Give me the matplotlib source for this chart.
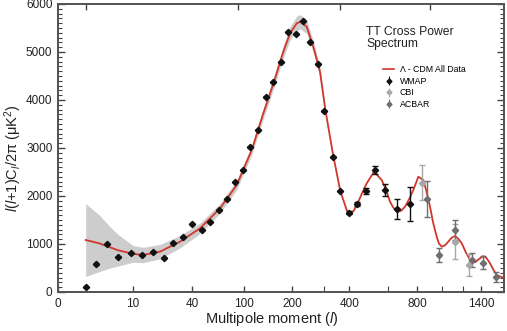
import matplotlib.pyplot as plt
import numpy as np
from matplotlib.ticker import MultipleLocator, FixedLocator
from matplotlib.lines import Line2D

plt.rcParams['font.family'] = ['Liberation Sans', 'DejaVu Sans']
plt.rcParams['mathtext.fontset'] = 'custom'
plt.rcParams['mathtext.rm'] = 'Liberation Sans'
plt.rcParams['mathtext.it'] = 'Liberation Sans:italic'

# Lambda-CDM model curve
model_l = [2, 3.4, 4.95, 6.4, 10, 13.1, 20, 31.2, 46.6, 67.1, 88.8, 112.5, 133.8,
           156, 177.5, 194.3, 212.3, 222, 241.3, 262.1, 284.5, 302, 331, 361,
           388.5, 403, 420, 441.6, 462, 483.3, 522, 565, 590, 614.5, 635, 657, 685,
           712, 740, 771, 808, 846, 870, 900, 925, 956, 975, 1000, 1030, 1059, 1090,
           1123, 1155, 1189, 1230, 1275, 1300, 1329, 1375, 1422, 1460, 1501, 1540,
           1583, 1676]
model_v = [1083, 1014, 931, 870, 795, 771, 840, 1048, 1327, 1743, 2229, 2958, 3722,
           4380, 5006, 5389, 5597, 5631, 5527, 5110, 4589, 3850, 2900, 2110,
           1708, 1625, 1690, 1881, 2080, 2264, 2506, 2333, 2130, 1881, 1760, 1673, 1690,
           1777, 1930, 2125, 2402, 2333, 2110, 1777, 1450, 1152, 1010, 944, 975, 1048, 1130,
           1166, 1110, 1014, 830, 667, 625, 619, 690, 750, 705, 598, 470,
           354, 290]

# grey uncertainty band half-width (first points of the model curve)
band_half = [760, 590, 430, 330, 175, 160, 150, 130, 110, 100, 100, 100, 110,
             120, 130, 140, 150, 150, 140, 120, 100, 80]

# WMAP
wmap_l = [2, 3, 4.4, 6.4, 9.4, 12.8, 16.9, 21.9, 26.9, 33, 40, 48, 56, 65.6, 75.6,
          86.4, 98.7, 110, 124.3, 139.2, 153.2, 171.3, 189.9, 209.5, 229.4, 250.6,
          276.7, 299.7, 331, 361.4, 397.3, 433.9, 478.2, 529, 584.3, 660.6, 747]
wmap_v = [104, 583, 1000, 729, 812, 771, 833, 708, 1021, 1146, 1416, 1291, 1458, 1708,
          1937, 2291, 2541, 3014, 3375, 4068, 4381, 4791, 5409, 5367, 5652, 5208,
          4742, 3770, 2818, 2110, 1652, 1827, 2110, 2535, 2125, 1722, 1827]
wmap_err = [0] * 30 + [30, 40, 60, 80, 135, 208, 357]

# CBI
cbi_l = [838, 1120, 1264]
cbi_v = [2277, 1048, 562]
cbi_err = [365, 370, 230]

# ACBAR
acbar_l = [873, 978, 1120, 1292, 1418, 1574]
acbar_v = [1937, 771, 1291, 667, 610, 319]
acbar_err = [375, 156, 200, 150, 139, 104]

xticks = [0.508, 10, 40, 100, 200, 400, 800, 1400]
xticklabels = ['0', '10', '40', '100', '200', '400', '800', '1400']
xminor = [300, 600, 1000, 1200]
top_ticks = [2, 90, 360, 900]


def fwd(x):
    x = np.asarray(x, dtype=float)
    return np.sign(x) * np.abs(x) ** 0.25


def inv(y):
    y = np.asarray(y, dtype=float)
    return np.sign(y) * np.abs(y) ** 4


fig = plt.figure(figsize=(5.07, 3.31), dpi=100)
ax = fig.add_axes([58 / 507, 39 / 331, 446 / 507, 288 / 331])
ax.set_xscale('function', functions=(fwd, inv))

nb = len(band_half)
bv = np.array(model_v[:nb])
bh = np.array(band_half)
ax.fill_between(model_l[:nb], bv - bh, bv + bh, color='#cdcdcd', lw=0, zorder=1)
ax.plot(model_l, model_v, color='#d2372b', lw=1.3, zorder=2)

ax.errorbar(wmap_l, wmap_v, yerr=wmap_err, fmt='D', ms=3.2, color='#111111',
            ecolor='#111111', elinewidth=1, capsize=2, capthick=1, zorder=4)
ax.errorbar(cbi_l, cbi_v, yerr=cbi_err, fmt='D', ms=3.2, color='#a8a8a8',
            ecolor='#a8a8a8', elinewidth=1, capsize=2, capthick=1, zorder=3)
ax.errorbar(acbar_l, acbar_v, yerr=acbar_err, fmt='D', ms=3.2, color='#6e6e6e',
            ecolor='#6e6e6e', elinewidth=1, capsize=2, capthick=1, zorder=3)

ax.set_xlim(0.508, 1676)
ax.set_ylim(0, 6000)
ax.xaxis.set_major_locator(FixedLocator(xticks))
ax.set_xticklabels(xticklabels)
ax.xaxis.set_minor_locator(FixedLocator(xminor))
ax.yaxis.set_major_locator(MultipleLocator(1000))
ax.yaxis.set_minor_locator(MultipleLocator(100))
ax.tick_params(which='both', direction='in', right=True, top=False,
               color='#444444', labelsize=8.5, labelcolor='#222222')
ax.tick_params(which='major', length=5, width=1, pad=4)
ax.tick_params(which='minor', length=3, width=0.8)
ax.tick_params(axis='x', which='both', length=4)

ax2 = ax.twiny()
ax2.set_xscale('function', functions=(fwd, inv))
ax2.set_xlim(ax.get_xlim())
ax2.xaxis.set_major_locator(FixedLocator(top_ticks))
ax2.xaxis.set_minor_locator(FixedLocator([]))
ax2.tick_params(axis='x', direction='in', length=4, width=1, color='#444444',
                labeltop=False)

for a in (ax, ax2):
    for s in a.spines.values():
        s.set_color('#555555')
        s.set_linewidth(1.4)

fig.text(272 / 507, 1 - 319 / 331, 'Multipole moment ($l$)', ha='center', va='center',
         fontsize=10.5, color='#222222')
fig.text(13 / 507, 1 - 158 / 331, '$l$($l$+1)C$_l$/2π (μK$^2$)', ha='center',
         va='center', rotation=90, fontsize=10.5, color='#222222')

fig.text(366 / 507, 1 - 26 / 331, 'TT Cross Power\nSpectrum', ha='left', va='top',
         fontsize=8.7, linespacing=1.05, color='#222222')

handles = [Line2D([], [], color='#d2372b', lw=1.2)]
h_w = ax.errorbar([], [], yerr=[], fmt='D', ms=2.5, color='#111111', elinewidth=0.8,
                  capsize=1.5)
h_c = ax.errorbar([], [], yerr=[], fmt='D', ms=2.5, color='#a8a8a8', elinewidth=0.8,
                  capsize=1.5)
h_a = ax.errorbar([], [], yerr=[], fmt='D', ms=2.5, color='#6e6e6e', elinewidth=0.8,
                  capsize=1.5)
handles += [h_w, h_c, h_a]
labels = ['Λ - CDM All Data', 'WMAP', 'CBI', 'ACBAR']
fig.legend(handles, labels, loc='upper left', bbox_to_anchor=(383 / 507, 1 - 65 / 331),
           frameon=False, fontsize=6.3, handlelength=1.3, handletextpad=0.6,
           labelspacing=0.3, borderpad=0, borderaxespad=0)

fig.savefig('out.png', dpi=100)
